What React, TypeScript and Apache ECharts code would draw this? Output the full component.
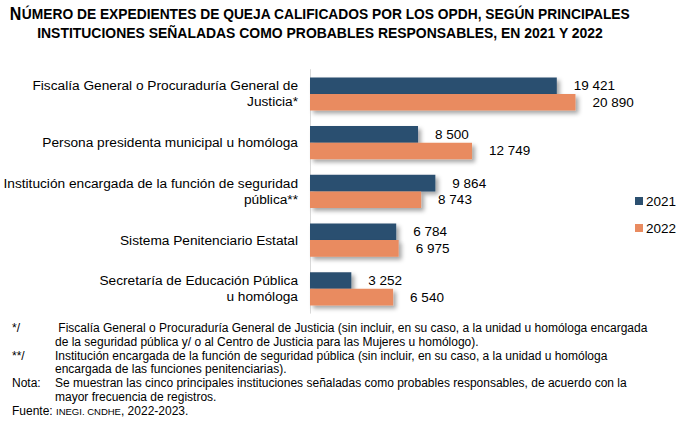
import React, { useEffect, useRef } from "react";
import * as echarts from "echarts";

const categories = [
  "Fiscalía General o Procuraduría General de\nJusticia*",
  "Persona presidenta municipal u homóloga",
  "Institución encargada de la función de seguridad\npública**",
  "Sistema Penitenciario Estatal",
  "Secretaría de Educación Pública\nu homóloga",
];
const seriesNames = ["2021", "2022"];
const values2021 = [19421, 8500, 9864, 6784, 3252];
const values2022 = [20890, 12749, 8743, 6975, 6540];

const titleLines = [
  "NÚMERO DE EXPEDIENTES DE QUEJA CALIFICADOS POR LOS OPDH, SEGÚN PRINCIPALES",
  "INSTITUCIONES SEÑALADAS COMO PROBABLES RESPONSABLES, EN 2021 Y 2022",
];
const notes = [
  ["*/", " Fiscalía General o Procuraduría General de Justicia (sin incluir, en su caso, a la unidad u homóloga encargada"],
  ["", "de la seguridad pública y/ o al Centro de Justicia para las Mujeres u homólogo)."],
  ["**/", "Institución encargada de la función de seguridad pública (sin incluir, en su caso, a la unidad u homóloga"],
  ["", "encargada de las funciones penitenciarias)."],
  ["Nota:", "Se muestran las cinco principales instituciones señaladas como probables responsables, de acuerdo con la"],
  ["", "mayor frecuencia de registros."],
];

const COLORS = ["#2C5070", "#E98B60"];
const FONT = "'Liberation Sans', Arial, sans-serif";

const fmt = (v: number) => String(v).replace(/\B(?=(\d{3})+(?!\d))/g, " ");

export default function App() {
  const ref = useRef<HTMLDivElement>(null);
  useEffect(() => {
    if (!ref.current) return;
    const chart = echarts.init(ref.current, undefined, { renderer: "svg" });
    const noteY = [328, 342, 356, 369, 383, 397];
    const graphics: any[] = [];
    titleLines.forEach((t, i) => {
      const first = t.charAt(0);
      const rest = t.slice(1);
      graphics.push({
        type: "text",
        x: 320,
        y: i === 0 ? 14 : 33,
        scaleX: i === 0 ? 0.89 : 0.9,
        originX: 0,
        originY: 0,
        style: {
          text: i === 0 ? `{a|${first}}{b|${rest}}` : `{b|${t}}`,
          rich: {
            a: { fontSize: 18, fontWeight: "bold", fontFamily: FONT, fill: "#000" },
            b: { fontSize: 15.5, fontWeight: "bold", fontFamily: FONT, fill: "#000" },
          },
          align: "center",
          verticalAlign: "middle",
        },
      });
    });
    notes.forEach((n, i) => {
      if (n[0]) {
        graphics.push({
          type: "text",
          x: 12,
          y: noteY[i],
          style: { text: n[0], fontSize: 12, fontFamily: FONT, fill: "#000", verticalAlign: "middle" },
        });
      }
      graphics.push({
        type: "text",
        x: 55,
        y: noteY[i],
        style: { text: n[1], fontSize: 12, fontFamily: FONT, fill: "#000", verticalAlign: "middle" },
      });
    });
    graphics.push({
      type: "text",
      x: 12,
      y: 411,
      style: {
        text: "{f|Fuente: }{s|INEGI. CNDHE}{f|, 2022-2023.}",
        rich: {
          f: { fontSize: 12, fontFamily: FONT, fill: "#000" },
          s: { fontSize: 9.5, fontFamily: FONT, fill: "#000" },
        },
        verticalAlign: "middle",
      },
    });

    chart.setOption({
      animation: false,
      textStyle: { fontFamily: FONT },
      legend: {
        orient: "vertical",
        left: 630,
        top: 189,
        itemWidth: 8,
        itemHeight: 8,
        itemGap: 13,
        icon: "rect",
        data: seriesNames,
        textStyle: { fontSize: 13.5, color: "#000", fontFamily: FONT, padding: [0, 0, 0, -2] },
      },
      grid: { left: 310, top: 69.6, height: 243.6, right: 60.3, containLabel: false },
      xAxis: {
        type: "value",
        min: 0,
        max: 25000,
        show: false,
      },
      yAxis: {
        type: "category",
        inverse: true,
        data: categories,
        axisLine: { show: true, lineStyle: { color: "#D9D9D9", width: 1 } },
        axisTick: { show: false },
        axisLabel: {
          fontSize: 13.7,
          color: "#000",
          fontFamily: FONT,
          margin: 12,
          lineHeight: 16,
          align: "right",
        },
      },
      series: [values2021, values2022].map((vals, i) => ({
        type: "bar",
        name: seriesNames[i],
        data: vals,
        barGap: "0%",
        barCategoryGap: "32%",
        itemStyle: {
          color: COLORS[i],
          shadowColor: "rgba(0,0,0,0.35)",
          shadowBlur: 4,
          shadowOffsetX: 3,
          shadowOffsetY: 3,
        },
        label: {
          show: true,
          position: "right",
          distance: 17,
          fontSize: 13.5,
          color: "#000",
          fontFamily: FONT,
          formatter: (p: any) => fmt(p.value),
        },
      })),
      graphic: graphics,
    });
    return () => chart.dispose();
  }, []);
  return (
    <div
      ref={ref}
      style={{ position: "fixed", left: 0, top: 0, width: 688, height: 426, background: "#fff" }}
    />
  );
}
